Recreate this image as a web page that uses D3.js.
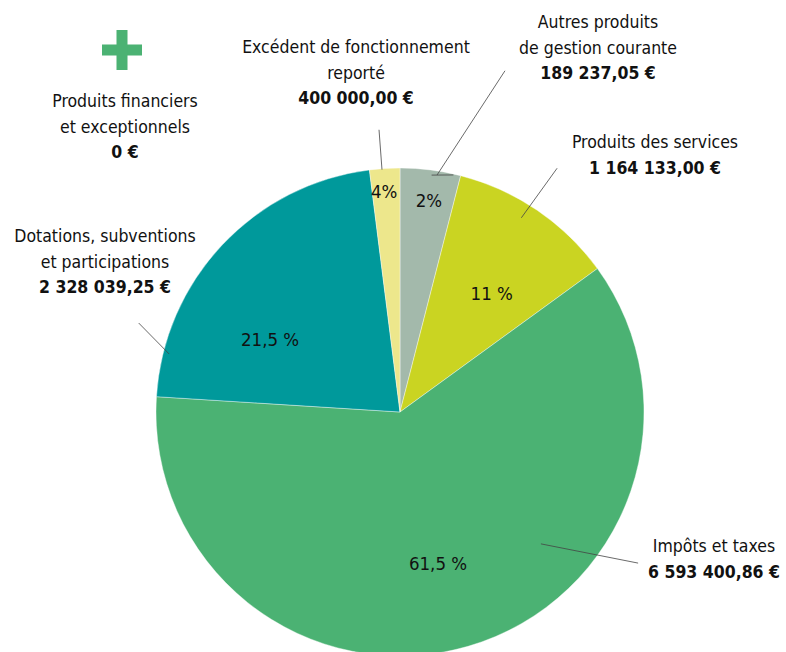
<html>
<head>
<meta charset="utf-8">
<script src="https://d3js.org/d3.v7.min.js"></script>
<style>
  body { margin: 0; background: #fff; }
  text { font-family: "DejaVu Sans Condensed", "Liberation Sans Narrow", sans-serif; fill: #111; }
</style>
</head>
<body>
<svg width="786" height="652"></svg>
<script>
// slices, clockwise from 12 o'clock (sizes as drawn in the picture)
const categories = ["Autres produits de gestion courante", "Produits des services", "Impôts et taxes",
                    "Dotations, subventions et participations", "Excédent de fonctionnement reporté"];
const shares = [4, 11, 61, 22, 2];
const pctLabels = ["2%", "11 %", "61,5 %", "21,5 %", "4%"];
const colors = ["#a3b9ab", "#cad422", "#4bb273", "#00999b", "#ede78c"];

// label blocks (lines of name, then amount in bold)
const nameLines = [
  ["Autres produits", "de gestion courante"],
  ["Produits des services"],
  ["Impôts et taxes"],
  ["Dotations, subventions", "et participations"],
  ["Excédent de fonctionnement", "reporté"]
];
const amounts = ["189 237,05 €", "1 164 133,00 €", "6 593 400,86 €", "2 328 039,25 €", "400 000,00 €"];
const extraName = ["Produits financiers", "et exceptionnels"];
const extraAmount = "0 €";

const svg = d3.select("svg");
const cx = 400, cy = 412, R = 244;
const g = svg.append("g").attr("transform", `translate(${cx},${cy})`);

const pie = d3.pie().sort(null).value(d => d);
const arcs = pie(shares);
const arc = d3.arc().innerRadius(0).outerRadius(R);

g.selectAll("path.slice")
  .data(arcs)
  .enter()
  .append("path")
  .attr("class", "slice")
  .attr("d", arc)
  .attr("fill", (d, i) => colors[i])
  .attr("stroke", "#fff")
  .attr("stroke-width", 0.4);

// percent labels: angle (deg) and radius
const pctPos = [[7.8, 213], [37.7, 150], [165.9, 156], [299.3, 149], [355.9, 221]];
const rad = a => a * Math.PI / 180;
g.selectAll("text.pct")
  .data(arcs)
  .enter()
  .append("text")
  .attr("class", "pct")
  .attr("transform", (d, i) => "translate(" + d3.pointRadial(rad(pctPos[i][0]), pctPos[i][1]) + ")")
  .attr("text-anchor", "middle")
  .attr("dy", "0.35em")
  .style("font-size", "18.5px")
  .text((d, i) => pctLabels[i]);

// leader lines: [angle1, r1, angle2, r2]
const leaders = [
  [8.9, 240, 17.1, 357],
  [32, 229, 32.8, 290],
  [133.1, 193, 122.4, 282],
  [284.1, 238, 288.8, 276],
  [355.75, 243, 355.75, 283],
  [7.6, 239, 12.7, 243]
];
g.selectAll("line.leader")
  .data(leaders)
  .enter()
  .append("line")
  .attr("class", "leader")
  .attr("x1", d => d3.pointRadial(rad(d[0]), d[1])[0])
  .attr("y1", d => d3.pointRadial(rad(d[0]), d[1])[1])
  .attr("x2", d => d3.pointRadial(rad(d[2]), d[3])[0])
  .attr("y2", d => d3.pointRadial(rad(d[2]), d[3])[1])
  .attr("stroke", "#444")
  .attr("stroke-width", 0.8);

// label blocks: center x, first baseline
const labelPos = [[598, 28], [655, 148], [714, 552], [105, 242], [356, 53]];
const lh = 25.5;

function block(x, y, lines, amount) {
  const t = svg.append("text").attr("text-anchor", "middle").style("font-size", "17.5px");
  lines.forEach((l, k) => {
    t.append("tspan").attr("x", x).attr("y", y + k * lh).text(l);
  });
  t.append("tspan").attr("x", x).attr("y", y + lines.length * lh)
    .style("font-weight", "bold").text(amount);
}
nameLines.forEach((lines, i) => block(labelPos[i][0], labelPos[i][1], lines, amounts[i]));
block(125, 107, extraName, extraAmount);

// green plus sign
const plus = svg.append("g").attr("transform", "translate(122,50)").attr("fill", "#4bb273");
plus.append("rect").attr("x", -20).attr("y", -5.5).attr("width", 40).attr("height", 11);
plus.append("rect").attr("x", -5.5).attr("y", -20).attr("width", 11).attr("height", 40);
</script>
</body>
</html>
